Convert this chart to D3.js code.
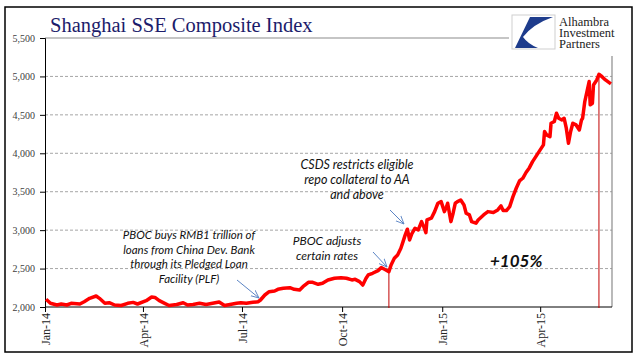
<!DOCTYPE html>
<html>
<head>
<meta charset="utf-8">
<script src="https://cdn.jsdelivr.net/npm/d3@7"></script>
<style>
  body { margin: 0; background: #fff; }
  svg { display: block; }
</style>
</head>
<body>
<div class="canvas"></div>
<script>
// data
const dates = [
  "2014-01-02", "2014-01-06", "2014-01-12", "2014-01-16", "2014-01-21", "2014-01-25",
  "2014-02-02", "2014-02-06", "2014-02-11", "2014-02-17", "2014-02-20", "2014-02-25",
  "2014-03-01", "2014-03-06", "2014-03-12", "2014-03-18", "2014-03-23", "2014-03-27",
  "2014-04-04", "2014-04-09", "2014-04-12", "2014-04-16", "2014-04-21", "2014-04-25",
  "2014-05-02", "2014-05-08", "2014-05-12", "2014-05-17", "2014-05-23", "2014-05-29",
  "2014-06-04", "2014-06-10", "2014-06-15", "2014-06-20", "2014-06-26", "2014-06-30",
  "2014-07-05", "2014-07-11", "2014-07-16", "2014-07-18", "2014-07-22", "2014-07-26",
  "2014-07-31", "2014-08-03", "2014-08-08", "2014-08-14", "2014-08-18", "2014-08-23",
  "2014-08-26", "2014-08-31", "2014-09-04", "2014-09-09", "2014-09-13", "2014-09-18",
  "2014-09-24", "2014-09-30", "2014-10-05", "2014-10-10", "2014-10-13", "2014-10-17",
  "2014-10-20", "2014-10-23", "2014-10-25", "2014-10-29", "2014-11-03", "2014-11-06",
  "2014-11-09", "2014-11-13", "2014-11-15", "2014-11-18", "2014-11-21", "2014-11-24",
  "2014-11-26", "2014-11-28", "2014-11-30", "2014-12-02", "2014-12-04", "2014-12-07",
  "2014-12-10", "2014-12-13", "2014-12-15", "2014-12-17", "2014-12-18", "2014-12-22",
  "2014-12-25", "2014-12-28", "2014-12-31", "2015-01-03", "2015-01-05", "2015-01-06",
  "2015-01-09", "2015-01-11", "2015-01-13", "2015-01-15", "2015-01-18", "2015-01-21",
  "2015-01-23", "2015-01-26", "2015-01-28", "2015-02-01", "2015-02-03", "2015-02-08",
  "2015-02-12", "2015-02-17", "2015-02-21", "2015-02-24", "2015-02-26", "2015-03-01",
  "2015-03-04", "2015-03-07", "2015-03-10", "2015-03-13", "2015-03-16", "2015-03-19",
  "2015-03-22", "2015-03-25", "2015-03-28", "2015-04-01", "2015-04-04", "2015-04-05",
  "2015-04-07", "2015-04-10", "2015-04-11", "2015-04-14", "2015-04-16", "2015-04-18",
  "2015-04-21", "2015-04-23", "2015-04-25", "2015-04-27", "2015-04-29", "2015-05-01",
  "2015-05-04", "2015-05-07", "2015-05-09", "2015-05-10", "2015-05-12", "2015-05-14",
  "2015-05-16", "2015-05-17", "2015-05-19", "2015-05-20", "2015-05-23", "2015-05-25",
  "2015-05-27", "2015-05-31", "2015-06-05"
];
const values = [
  2100, 2048, 2026, 2039, 2026, 2048,
  2039, 2069, 2113, 2143, 2113, 2048,
  2056, 2026, 2020, 2048, 2060, 2039,
  2082, 2130, 2125, 2082, 2048, 2020,
  2032, 2056, 2026, 2032, 2048, 2032,
  2048, 2065, 2020, 2032, 2048, 2056,
  2048, 2061, 2069, 2091, 2156, 2199,
  2208, 2230, 2243, 2251, 2230, 2221,
  2264, 2321, 2321, 2295, 2308, 2352,
  2374, 2382, 2374, 2352, 2360, 2330,
  2286, 2374, 2417, 2439, 2473, 2512,
  2491, 2460, 2547, 2634, 2677, 2764,
  2851, 2938, 3012, 2872, 2951, 3025,
  3003, 3111, 3046, 2968, 3133, 3155,
  3241, 3350, 3371, 3241, 3306, 3350,
  3111, 3220, 3350, 3371, 3393, 3328,
  3220, 3198, 3111, 3090, 3133, 3198,
  3241, 3230, 3263, 3315, 3255, 3255,
  3306, 3436, 3545, 3640, 3675, 3750,
  3810, 3892, 3957, 4044, 4109, 4283,
  4240, 4217, 4391, 4413, 4521, 4456,
  4434, 4456, 4326, 4130, 4283, 4391,
  4369, 4304, 4434, 4456, 4673, 4803,
  4934, 4630, 4651, 4889, 4954, 5028,
  5007, 4954, 4902
];
const yTicks = [2000, 2500, 3000, 3500, 4000, 4500, 5000, 5500];
const xTickDates = ["2014-01-01", "2014-04-01", "2014-07-01", "2014-10-01", "2015-01-01", "2015-04-01"];
const xTickLabels = ["Jan-14", "Apr-14", "Jul-14", "Oct-14", "Jan-15", "Apr-15"];
const markerDates = ["2014-11-13", "2015-05-25"];
const notePBOC = ["PBOC buys RMB1 trillion of", "loans from China Dev. Bank", "through its Pledged Loan", "Facility (PLF)"];
const noteRates = ["PBOC adjusts", "certain rates"];
const noteCSDS = ["CSDS restricts eligible", "repo collateral to AA", "and above"];

const w = 641;
const h = 361;
const parse = d3.timeParse("%Y-%m-%d");
const dataset = dates.map((d, i) => ({ date: parse(d), value: values[i] }));

const svg = d3.select(".canvas").append("svg").attr("width", w).attr("height", h);

// plot area
const plot = { left: 45, right: 612, top: 38, bottom: 307 };

const x = d3.scaleTime().domain([parse("2014-01-01"), parse("2015-06-06")]).range([plot.left, plot.right]);
const y = d3.scaleLinear().domain([2000, 5500]).range([plot.bottom, plot.top]);

// outer frame
svg.append("rect")
  .attr("x", 5).attr("y", 7).attr("width", 627).attr("height", 345)
  .attr("fill", "#fff").attr("stroke", "#000").attr("stroke-width", 1.5);

// gridlines
svg.append("g")
  .selectAll("line")
  .data(yTicks.filter((t) => t > 2000 && t < 5500))
  .enter()
  .append("line")
  .attr("x1", plot.left).attr("x2", plot.right)
  .attr("y1", (d) => y(d)).attr("y2", (d) => y(d))
  .attr("stroke", "#a6a6a6").attr("stroke-dasharray", "3,2").attr("stroke-width", 1);

// plot border top & right
svg.append("path")
  .attr("d", `M${plot.left},${plot.top}H${plot.right}V${plot.bottom}`)
  .attr("fill", "none").attr("stroke", "#8c8c8c").attr("stroke-width", 1.2);

// y axis
const yAxis = svg.append("g")
  .attr("transform", `translate(${plot.left},0)`)
  .call(d3.axisLeft(y).tickValues(yTicks).tickSize(5).tickPadding(5).tickFormat(d3.format(",")));
yAxis.select(".domain").attr("stroke", "#000");
yAxis.selectAll("text")
  .attr("font-family", "Liberation Serif, serif").attr("font-size", 10).attr("fill", "#404040");

// x axis
const xAxis = svg.append("g")
  .attr("transform", `translate(0,${plot.bottom})`)
  .call(d3.axisBottom(x).tickValues(xTickDates.map(parse)).tickSize(5).tickFormat((d, i) => xTickLabels[i]));
xAxis.select(".domain").attr("stroke", "#000").attr("d", `M${plot.left},0H${plot.right}`);
xAxis.selectAll("text")
  .attr("font-family", "Liberation Serif, serif").attr("font-size", 12).attr("fill", "#222")
  .attr("transform", "rotate(-90)")
  .attr("text-anchor", "end")
  .attr("x", -6).attr("y", 0).attr("dy", "0.35em");

// vertical marker lines
svg.append("g")
  .selectAll("line")
  .data(markerDates.map(parse))
  .enter()
  .append("line")
  .attr("x1", (d) => x(d)).attr("x2", (d) => x(d))
  .attr("y1", (d) => y(dataset.find((p) => +p.date === +d).value))
  .attr("y2", plot.bottom + 1)
  .attr("stroke", "#c00000").attr("stroke-width", 1);

// the index line
const line = d3.line().x((d) => x(d.date)).y((d) => y(d.value));
svg.append("path")
  .datum(dataset)
  .attr("d", line)
  .attr("fill", "none").attr("stroke", "#ff0000").attr("stroke-width", 3.5)
  .attr("stroke-linejoin", "round");

// arrows
svg.append("defs").append("marker")
  .attr("id", "arr").attr("viewBox", "0 0 10 10").attr("refX", 9).attr("refY", 5)
  .attr("markerWidth", 9).attr("markerHeight", 9).attr("orient", "auto")
  .attr("markerUnits", "userSpaceOnUse")
  .append("path").attr("d", "M0,1 L9,5 L0,9").attr("fill", "none").attr("stroke", "#5b84c4").attr("stroke-width", 1);

const arrows = [
  [237, 280, 259, 298],
  [373, 252, 387, 267],
  [390, 210, 404, 224]
];
svg.append("g")
  .selectAll("line")
  .data(arrows)
  .enter()
  .append("line")
  .attr("x1", (d) => d[0]).attr("y1", (d) => d[1])
  .attr("x2", (d) => d[2]).attr("y2", (d) => d[3])
  .attr("stroke", "#5b84c4").attr("stroke-width", 1)
  .attr("marker-end", "url(#arr)");

// annotation text
function note(lines, cx, y0, step, size) {
  const t = svg.append("text")
    .attr("font-family", "Lato, sans-serif").attr("font-style", "italic")
    .attr("font-size", size).attr("fill", "#111").attr("text-anchor", "middle");
  lines.forEach((s, i) => {
    t.append("tspan").attr("x", cx).attr("y", y0 + i * step).text(s);
  });
}
note(notePBOC, 189, 239, 14.7, 11.5);
note(noteRates, 327, 245, 14.5, 12);
note(noteCSDS, 357, 169, 15, 12.5);

svg.append("text")
  .attr("x", 490).attr("y", 267)
  .attr("font-family", "Lato, sans-serif").attr("font-style", "italic").attr("font-weight", "bold")
  .attr("font-size", 17).attr("fill", "#111")
  .text("+105%");

// title
svg.append("text")
  .attr("x", 50).attr("y", 31.5)
  .attr("font-family", "Liberation Serif, serif").attr("font-size", 20.5).attr("fill", "#1c1c6b")
  .text("Shanghai SSE Composite Index");

// logo
svg.append("rect").attr("x", 509).attr("y", 9).attr("width", 122).attr("height", 47).attr("fill", "#fff");
svg.append("rect").attr("x", 512).attr("y", 15).attr("width", 43).attr("height", 34)
  .attr("fill", "#fff").attr("stroke", "#cfcfcf").attr("stroke-width", 1);
svg.append("path")
  .attr("d", "M530,17 L553,17 Q533,24 523,37 Q528,44 538,48 L515,48 Z")
  .attr("fill", "#1e3c8c");
const logo = svg.append("text")
  .attr("font-family", "Liberation Serif, serif").attr("font-size", 12.5).attr("fill", "#222");
["Alhambra", "Investment", "Partners"].forEach((s, i) => {
  logo.append("tspan").attr("x", 559).attr("y", 26.3 + i * 11).text(s);
});
</script>
</body>
</html>
